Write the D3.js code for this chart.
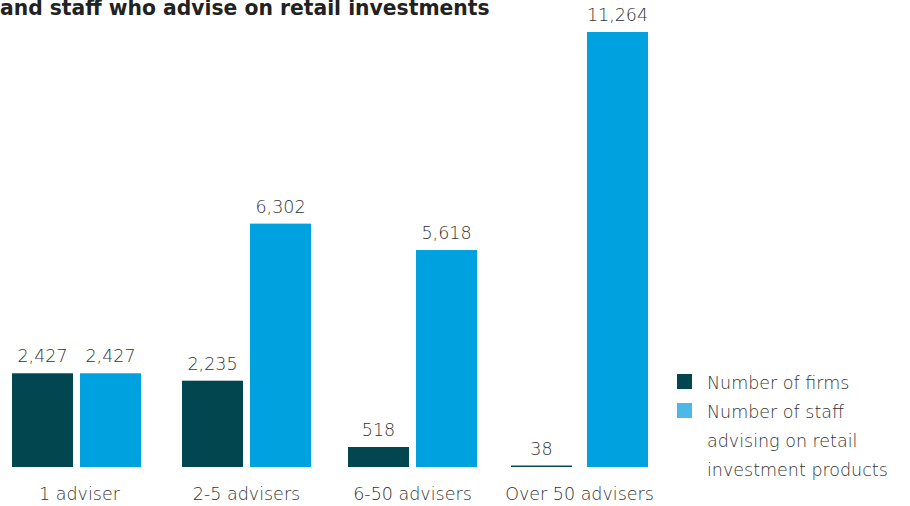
<!DOCTYPE html>
<html>
<head>
<meta charset="utf-8">
<script src="https://cdn.jsdelivr.net/npm/d3@7"></script>
<style>
  html, body { margin: 0; padding: 0; background: #fff; }
  svg { display: block; }
</style>
</head>
<body>
<svg id="chart" width="910" height="506"></svg>
<script>
// Advice firms by size band, and the staff they employ
const categories = ["1 adviser", "2-5 advisers", "6-50 advisers", "Over 50 advisers"];
const firms = [2427, 2235, 518, 38];
const staff = [2427, 6302, 5618, 11264];
const legendLines = [["Number of firms"], ["Number of staff", "advising on retail", "investment products"]];
const titleText = "and staff who advise on retail investments";

const barColors = ["#02464f", "#00a1df"];
const legendColors = ["#02464f", "#4cb8e7"];

const FONT = "'DejaVu Sans', sans-serif";
const svg = d3.select("#chart");
const baseline = 467;

const x0 = d3.scaleBand().domain(categories).range([-8, 664]);
const x1 = d3.scaleBand().domain([0, 1]).range([0, 129]).paddingInner(7 / 68);
const y = d3.scaleLinear().domain([0, 11264]).range([baseline, 32]);

// title
const title = svg.append("text")
  .attr("x", 0).attr("y", 15)
  .attr("font-family", FONT)
  .attr("font-weight", 700)
  .attr("font-size", 20)
  .attr("fill", "#222")
  .text(titleText);
const tw = title.node().getComputedTextLength();
title.attr("font-size", 20 * 490 / tw);

const rows = categories.map((c, i) => ({ cat: c, vals: [firms[i], staff[i]] }));

// per-group nudges and the wider gap in the last pair
const groupOffset = [20, 22, 20, 15];
const pairGap = [0, 0, 0, 8];

const groups = svg.append("g").selectAll("g.grp").data(rows).join("g")
  .attr("class", "grp")
  .attr("transform", (d, i) => `translate(${x0(d.cat) + groupOffset[i]},0)`);

groups.each(function (d, gi) {
  const sel = d3.select(this);
  const extra = pairGap[gi];
  d.vals.forEach((v, si) => {
    const bx = x1(si) + (si === 1 ? extra : 0);
    const bw = x1.bandwidth();
    const top = y(v);
    sel.append("rect")
      .attr("x", bx).attr("y", top)
      .attr("width", bw).attr("height", Math.max(1.2, baseline - top))
      .attr("fill", barColors[si]);
    sel.append("text")
      .attr("x", bx + bw / 2).attr("y", top - 11)
      .attr("text-anchor", "middle")
      .attr("font-family", FONT)
      .attr("font-weight", 200)
      .attr("font-size", 17.5)
      .attr("fill", "#333")
      .text(d3.format(",")(v));
  });
  sel.append("text")
    .attr("x", (x1.range()[1] + extra) / 2 + (gi === 0 ? 3 : 0)).attr("y", 500)
    .attr("text-anchor", "middle")
    .attr("font-family", FONT)
    .attr("font-weight", 200)
    .attr("font-size", 17.5)
    .attr("fill", "#333")
    .text(d.cat);
});

// legend
const legend = svg.append("g").attr("transform", "translate(677,374)");
const lineH = 29;
let row = 0;
legendLines.forEach((lines, i) => {
  legend.append("rect")
    .attr("x", 0).attr("y", row * lineH)
    .attr("width", 15).attr("height", 15)
    .attr("fill", legendColors[i]);
  lines.forEach((t, k) => {
    legend.append("text")
      .attr("x", 30).attr("y", (row + k) * lineH + 15)
      .attr("font-family", FONT)
      .attr("font-weight", 200)
      .attr("font-size", 17.5)
      .attr("fill", "#333")
      .text(t);
  });
  row += lines.length;
});
</script>
</body>
</html>
